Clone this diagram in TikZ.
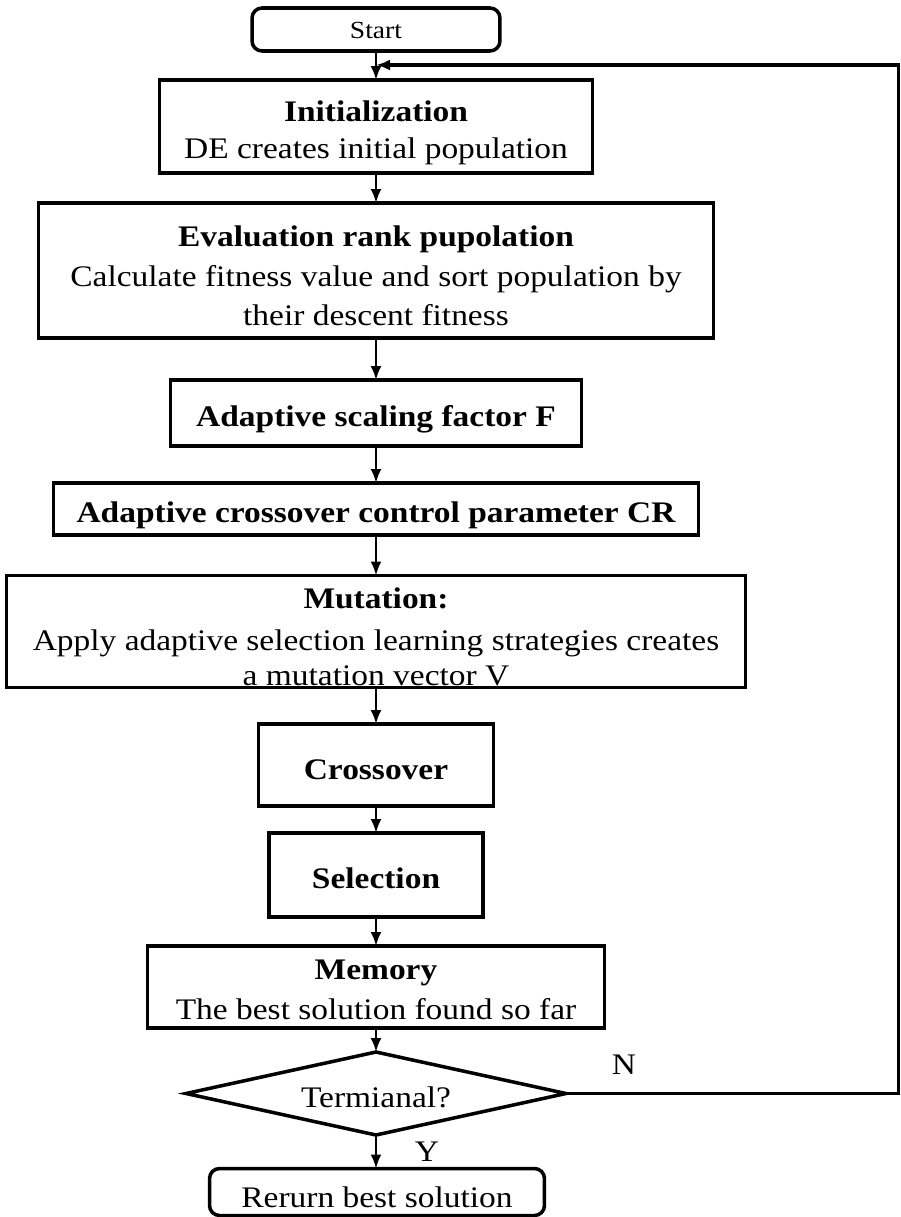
\documentclass[tikz,border=0pt]{standalone}
\usepackage{fontspec}
\setmainfont{Liberation Serif}[FakeStretch=1.12]
\usetikzlibrary{shapes.geometric,arrows.meta}
\tikzset{
  box/.style={draw=black, line width=2pt, inner sep=0pt, outer sep=0pt},
  rbox/.style={box, rounded corners=0.2cm},
  dec/.style={draw=black, line width=2pt, diamond, inner sep=0pt, outer sep=0pt},
  arr/.style={line width=1.4pt, -{Latex[length=0.28cm,width=0.22cm]}},
  loopline/.style={line width=2pt, -{Latex[length=0.28cm,width=0.22cm]}},
  txt/.style={inner sep=0pt, anchor=base, font=\fontsize{17}{20}\selectfont},
  btxt/.style={txt, font=\fontsize{17}{20}\selectfont\bfseries},
  stxt/.style={inner sep=0pt, anchor=base, font=\fontsize{14}{16}\selectfont},
}
\begin{document}
\begin{tikzpicture}[x=0.02cm, y=-0.02cm]
\useasboundingbox (0,0) rectangle (900,1217);
% boxes
\node[rbox, minimum width=4.96cm, minimum height=0.86cm] (start) at (376,29.5) {};
\node[box, minimum width=8.66cm, minimum height=1.86cm] (init) at (376,126.5) {};
\node[box, minimum width=13.5cm, minimum height=2.7cm] (eval) at (376,270.5) {};
\node[box, minimum width=8.22cm, minimum height=1.32cm] (scal) at (376,413) {};
\node[box, minimum width=12.9cm, minimum height=1.04cm] (cr) at (376,509) {};
\node[box, minimum width=14.78cm, minimum height=2.24cm] (mut) at (376,631.5) {};
\node[box, minimum width=4.7cm, minimum height=1.64cm] (cross) at (376,765) {};
\node[box, minimum width=4.28cm, minimum height=1.68cm] (sel) at (376,875) {};
\node[box, minimum width=9.14cm, minimum height=1.64cm] (mem) at (376,987) {};
\node[dec, minimum width=7.6cm, minimum height=1.66cm] (term) at (376,1093.5) {};
\node[rbox, minimum width=6.7cm, minimum height=0.94cm] (ret) at (377,1192) {};
% texts
\node[stxt] (tstart) at (376,38) {Start};
\node[btxt] (tinit1) at (376,121) {Initialization};
\node[txt] (tinit2) at (376,158) {DE creates initial population};
\node[btxt] (teval1) at (376,246) {Evaluation rank pupolation};
\node[txt] (teval2) at (376,286) {Calculate fitness value and sort population by};
\node[txt] (teval3) at (376,325) {their descent fitness};
\node[btxt] (tscal) at (376,426) {Adaptive scaling factor F};
\node[btxt] (tcr) at (376,522) {Adaptive crossover control parameter CR};
\node[btxt] (tmut1) at (376,608) {Mutation:};
\node[txt] (tmut2) at (376,650) {Apply adaptive selection learning strategies creates};
\node[txt] (tmut3) at (376,685) {a mutation vector V};
\node[btxt] (tcross) at (376,779) {Crossover};
\node[btxt] (tsel) at (376,888) {Selection};
\node[btxt] (tmem1) at (376,979) {Memory};
\node[txt] (tmem2) at (376,1019) {The best solution found so far};
\node[txt] (tterm) at (376,1107) {Termianal?};
\node[txt] (tret) at (377,1207) {Rerurn best solution};
\node[txt] (tn) at (624,1074) {N};
\node[txt] (ty) at (427,1161) {Y};
% connectors
\draw[arr] (start.south) -- (start.south |- init.north);
\draw[arr] (init.south) -- (init.south |- eval.north);
\draw[arr] (eval.south) -- (eval.south |- scal.north);
\draw[arr] (scal.south) -- (scal.south |- cr.north);
\draw[arr] (cr.south) -- (cr.south |- mut.north);
\draw[arr] (mut.south) -- (mut.south |- cross.north);
\draw[arr] (cross.south) -- (cross.south |- sel.north);
\draw[arr] (sel.south) -- (sel.south |- mem.north);
\draw[arr] (mem.south) -- (mem.south |- term.north);
\draw[arr] (term.south) -- (term.south |- ret.north);
\coordinate (rb) at (898.5,1093.5);
\coordinate (rt) at (898.5,65);
\draw[loopline] (term.east) -- (rb) -- (rt) -- (rt -| init.north);
\end{tikzpicture}
\end{document}
